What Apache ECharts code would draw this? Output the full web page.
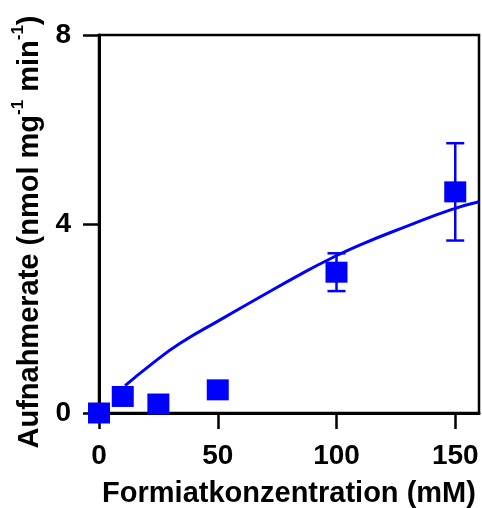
<!DOCTYPE html>
<html>
<head>
<meta charset="utf-8">
<script src="https://cdn.jsdelivr.net/npm/echarts@6/dist/echarts.min.js"></script>
<style>
html,body{margin:0;padding:0;background:#fff;}
#chart{width:482px;height:508px;}
</style>
</head>
<body>
<div id="chart"></div>
<script>
// Measured points
var concentrations = [0, 10, 25, 50, 100, 150];
var rates = [0.0, 0.35, 0.19, 0.49, 2.98, 4.68];
var errors = [0, 0, 0, 0, 0.40, 1.03];
// Fitted curve
var curveX = [11, 22, 34, 51, 68, 85, 98, 110, 130, 148, 160];
var curveY = [0.58, 1.03, 1.47, 1.97, 2.46, 2.94, 3.28, 3.56, 3.96, 4.30, 4.47];
// Tick values
var xTicks = [0, 50, 100, 150];
var yTicks = [0, 4, 8];

var BLUE = '#0000ff';
var FONT = '"Liberation Sans", Arial, sans-serif';

var pointData = concentrations.map(function (x, i) { return [x, rates[i]]; });
var errData = concentrations.map(function (x, i) { return [x, rates[i] - errors[i], rates[i] + errors[i]]; })
  .filter(function (d, i) { return errors[i] > 0; });
var curveData = curveX.map(function (x, i) { return [x, curveY[i]]; });

var chart = echarts.init(document.getElementById('chart'));
chart.setOption({
  backgroundColor: '#fff',
  animation: false,
  grid: { left: 99, right: 3, top: 35, bottom: 95, outerBoundsMode: 'none', containLabel: false, show: true, borderColor: '#000', borderWidth: 2.5, backgroundColor: 'transparent' },
  xAxis: {
    type: 'value', min: 0, max: 160,
    name: 'Formiatkonzentration (mM)', nameLocation: 'middle', nameGap: 66,
    nameTextStyle: { fontFamily: FONT, fontWeight: 'bold', fontSize: 29, color: '#000' },
    axisLine: { show: true, lineStyle: { color: '#000', width: 3 } },
    axisTick: { show: true, length: 16, lineStyle: { color: '#000', width: 2.5 }, customValues: xTicks },
    axisLabel: { margin: 29, fontFamily: FONT, fontWeight: 'bold', fontSize: 28, color: '#000', customValues: xTicks },
    splitLine: { show: false }
  },
  yAxis: {
    type: 'value', min: 0, max: 8, interval: 4,
    name: '{n|Aufnahmerate (nmol mg}{s|-1}{n| min}{s|-1}{n|)}', nameLocation: 'middle', nameGap: 55, nameRotate: 90,
    nameTextStyle: {
      fontFamily: FONT, fontWeight: 'bold', fontSize: 29, color: '#000', padding: [0, 16, 0, 0],
      rich: {
        n: { fontFamily: FONT, fontWeight: 'bold', fontSize: 29, color: '#000', lineHeight: 34, verticalAlign: 'bottom' },
        s: { fontFamily: FONT, fontWeight: 'bold', fontSize: 17, color: '#000', lineHeight: 34, verticalAlign: 'top', padding: [0, 0, 12, 0] }
      }
    },
    axisLine: { show: true, lineStyle: { color: '#000', width: 3 } },
    axisTick: { show: true, length: 16, lineStyle: { color: '#000', width: 2.5 }, customValues: yTicks },
    axisLabel: { margin: 28, fontFamily: FONT, fontWeight: 'bold', fontSize: 28, color: '#000', customValues: yTicks },
    splitLine: { show: false }
  },
  series: [
    {
      type: 'custom',
      z: 3,
      clip: false,
      data: errData,
      renderItem: function (params, api) {
        var x = api.value(0);
        var lo = api.coord([x, api.value(1)]);
        var hi = api.coord([x, api.value(2)]);
        var hw = 9;
        var st = { stroke: BLUE, lineWidth: 2.5 };
        return {
          type: 'group',
          children: [
            { type: 'line', shape: { x1: lo[0], y1: lo[1], x2: hi[0], y2: hi[1] }, style: st },
            { type: 'line', shape: { x1: lo[0] - hw, y1: lo[1], x2: lo[0] + hw, y2: lo[1] }, style: st },
            { type: 'line', shape: { x1: hi[0] - hw, y1: hi[1], x2: hi[0] + hw, y2: hi[1] }, style: st }
          ]
        };
      }
    },
    {
      type: 'scatter',
      z: 4,
      clip: false,
      symbol: 'rect',
      symbolSize: [22, 21],
      itemStyle: { color: BLUE, opacity: 1 },
      data: pointData
    },
    {
      type: 'line',
      z: 5,
      smooth: 0.5,
      showSymbol: false,
      symbol: 'none',
      lineStyle: { color: BLUE, width: 3 },
      data: curveData
    }
  ]
});
</script>
</body>
</html>
